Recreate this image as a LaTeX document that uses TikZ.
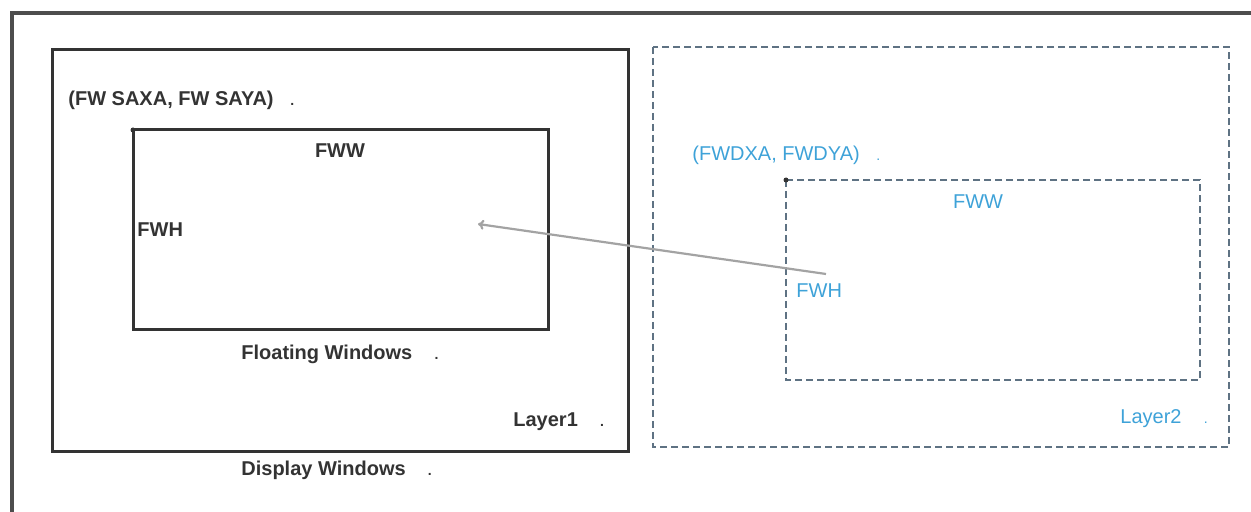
\documentclass[tikz,border=0pt]{standalone}
\usepackage{fontspec}
\setmainfont{Liberation Sans}
\usetikzlibrary{positioning, arrows.meta}

\definecolor{frameg}{HTML}{4D4D4D}
\definecolor{boxg}{HTML}{333333}
\definecolor{dashg}{HTML}{5E7283}
\definecolor{skyb}{HTML}{3EA2D8}
\definecolor{arrowg}{HTML}{A3A3A3}

\tikzset{
  blk/.style={font=\bfseries, text=boxg, inner sep=0pt},
  blu/.style={text=skyb, inner sep=0pt},
  solidbox/.style={draw=boxg, line width=1.5pt},
  dashbox/.style={draw=dashg, line width=1.4pt, dash pattern=on 3.5pt off 2pt},
  movearrow/.style={draw=arrowg, line width=1.1pt, -{To[length=3pt, width=5pt]}}
}

\begin{document}
\begin{tikzpicture}[x=0.5pt, y=-0.5pt]
\useasboundingbox (0,0) rectangle (1251,512);

% outer frame
\draw[frameg, line width=1.6pt] (12,512) -- (12,13) -- (1251,13);

% Layer1
\draw[solidbox] (52,50) rectangle (628,451);
\draw[solidbox] (133,130) rectangle (548,330);
\fill[boxg] (133,130) circle (2.5);
\coordinate (fwsa) at (133,130);

\node[blk, anchor=west] (sa) at (68,100) {(FW SAXA, FW SAYA)~~~{\scriptsize.}};
\node[blk] (fww1) at (340,151) {FWW};
\node[blk, anchor=west] (fwh1) at (137,230) {FWH};
\node[blk, anchor=west] (float) at (241,354) {Floating Windows~~~~{\scriptsize.}};
\node[blk, anchor=west] (lay1) at (513,422) {Layer1~~~~{\scriptsize.}};
\node[blk, anchor=west] (disp) at (241,470) {Display Windows~~~~{\scriptsize.}};

% Layer2
\draw[dashbox] (653,47) rectangle (1229,447);
\draw[dashbox] (786,180) rectangle (1200,380);
\fill[boxg] (786,180) circle (2.5);
\coordinate (fwda) at (786,180);

\node[blu, anchor=west] (da) at (692,155) {(FWDXA, FWDYA)~~~{\scriptsize.}};
\node[blu] (fww2) at (978,202) {FWW};
\node[blu, anchor=west] (fwh2) at (796,291) {FWH};
\node[blu, anchor=west] (lay2) at (1120,419) {Layer2~~~~{\scriptsize.}};

% move
\coordinate (src) at (826,274);
\coordinate (dst) at (478,224);
\draw[movearrow] (src) -- (dst);

\end{tikzpicture}
\end{document}
